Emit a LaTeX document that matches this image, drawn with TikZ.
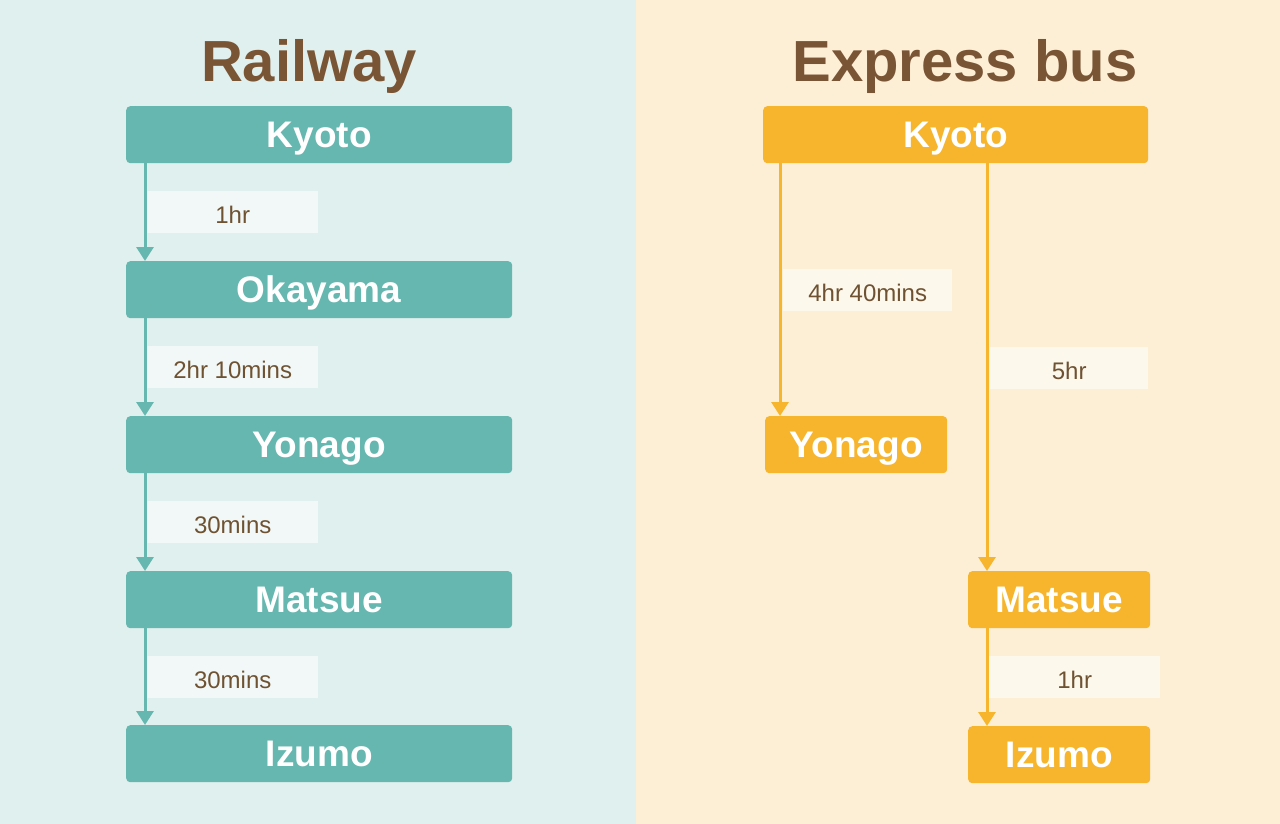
\documentclass[tikz,border=0pt]{standalone}
\usepackage{fontspec}
\setmainfont{Liberation Sans}
\usetikzlibrary{arrows.meta}
\definecolor{leftbg}{HTML}{E0F0EE}
\definecolor{rightbg}{HTML}{FDEFD6}
\definecolor{teal}{HTML}{66B7B0}
\definecolor{amber}{HTML}{F6B52D}
\definecolor{brown}{HTML}{7A5535}
\definecolor{labbrown}{HTML}{6E5232}
\definecolor{tlab}{HTML}{F2F8F7}
\definecolor{alab}{HTML}{FDF8EC}
\tikzset{
  station/.style={rounded corners=4pt, minimum height=57pt, inner sep=0pt, text=white,
    text height=31pt, text depth=5pt,
    font=\fontsize{37}{40}\selectfont\bfseries, anchor=north west},
  tstation/.style={station, fill=teal, minimum width=386pt},
  astation/.style={station, fill=amber},
  duration/.style={minimum height=42pt, inner sep=0pt, anchor=north west,
    text height=22pt, text depth=0pt,
    text=labbrown, font=\fontsize{24}{26}\selectfont},
  tdur/.style={duration, fill=tlab, minimum width=171pt},
  adur/.style={duration, fill=alab},
  title/.style={text=brown, font=\fontsize{58}{62}\selectfont\bfseries, anchor=base},
  tarrow/.style={draw=teal, line width=3pt, -{Triangle[width=17pt,length=14pt]}},
  aarrow/.style={draw=amber, line width=3pt, -{Triangle[width=17pt,length=14pt]}}
}
\begin{document}
\begin{tikzpicture}[x=1pt,y=-1pt]
\useasboundingbox (0,0) rectangle (1280,824);
\fill[leftbg] (0,0) rectangle (636,824);
\fill[rightbg] (636,0) rectangle (1280,824);

\node[title] (t1) at (309,82) {Railway};
\node[title] (t2) at (965,82) {Express bus};

% Railway
\node[tstation] (k1) at (126,106) {Kyoto};
\node[tstation] (o1) at (126,261) {Okayama};
\node[tstation] (y1) at (126,416) {Yonago};
\node[tstation] (m1) at (126,571) {Matsue};
\node[tstation] (i1) at (126,725) {Izumo};

\node[tdur] (d1) at (147,191) {1hr};
\node[tdur] (d2) at (147,346) {2hr 10mins};
\node[tdur] (d3) at (147,501) {30mins};
\node[tdur] (d4) at (147,656) {30mins};

\draw[tarrow] ([xshift=19pt]k1.south west) -- ([xshift=19pt]o1.north west);
\draw[tarrow] ([xshift=19pt]o1.south west) -- ([xshift=19pt]y1.north west);
\draw[tarrow] ([xshift=19pt]y1.south west) -- ([xshift=19pt]m1.north west);
\draw[tarrow] ([xshift=19pt]m1.south west) -- ([xshift=19pt]i1.north west);

% Express bus
\node[astation, minimum width=385pt] (k2) at (763,106) {Kyoto};
\node[astation, minimum width=182pt] (y2) at (765,416) {Yonago};
\node[astation, minimum width=182pt] (m2) at (968,571) {Matsue};
\node[astation, minimum width=182pt] (i2) at (968,726) {Izumo};

\node[adur, minimum width=169pt] (e1) at (783,269) {4hr 40mins};
\node[adur, minimum width=158pt] (e2) at (990,347) {5hr};
\node[adur, minimum width=171pt] (e3) at (989,656) {1hr};

\draw[aarrow] ([xshift=17pt]k2.south west) -- ([xshift=17pt]k2.south west |- y2.north);
\draw[aarrow] ([xshift=19pt]m2.north west |- k2.south) -- ([xshift=19pt]m2.north west);
\draw[aarrow] ([xshift=19pt]m2.south west) -- ([xshift=19pt]i2.north west);
\end{tikzpicture}
\end{document}
